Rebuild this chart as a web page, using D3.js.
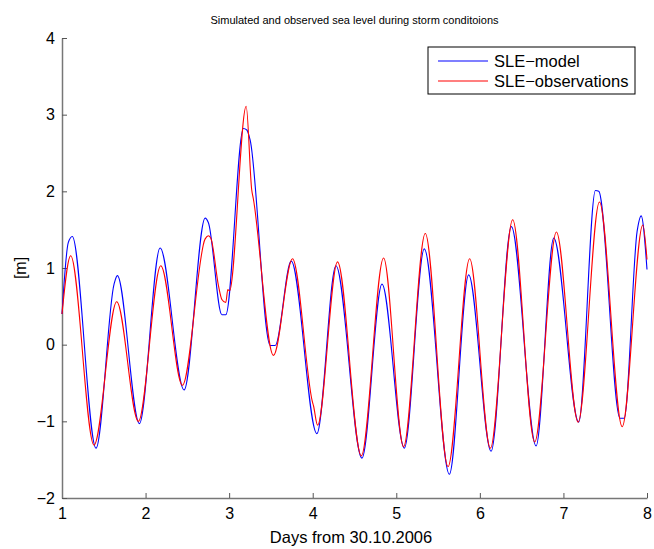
<!DOCTYPE html>
<html lang="en">
<head>
  <meta charset="UTF-8">
  <title>Simulated and observed sea level</title>
  <style>
    body { margin: 0; background: #fff; }
    text { font-family: "Liberation Sans", Arial, Helvetica, sans-serif; fill: #000; }
    .axis .domain { stroke: #777; stroke-width: 1.5; }
    .axis .tick line { stroke: #555; stroke-width: 1; }
    .axis .tick text { font-size: 16px; }
    .series { fill: none; stroke-width: 1.1; }
  </style>
</head>
<body>
  <svg id="chart" width="654" height="549"></svg>

  <script src="https://d3js.org/d3.v7.min.js"></script>
  <script>
    // Model series (days, metres)
    const MODEL_T = [1.000,1.075,1.123,1.407,1.623,1.662,1.926,2.174,2.461,2.713,2.752,2.913,2.960,
                     3.171,3.212,3.251,3.491,3.551,3.743,4.050,4.278,4.589,4.829,5.096,5.335,5.635,
                     5.866,6.134,6.377,6.673,6.884,7.183,7.383,7.423,7.677,7.727,7.882,7.930,8.000];
    const MODEL_V = [0.40,1.33,1.41,-1.35,0.79,0.90,-1.03,1.26,-0.59,1.65,1.59,0.39,0.39,
                     2.82,2.80,2.67,-0.01,-0.01,1.09,-1.16,1.03,-1.48,0.79,-1.35,1.25,-1.69,
                     0.91,-1.39,1.54,-1.32,1.39,-1.01,2.01,2.00,-0.96,-0.96,1.48,1.68,0.98];
    // Observations
    const OBS_T = [1.000,1.104,1.383,1.655,1.914,2.182,2.441,2.713,2.752,2.784,2.872,2.913,2.960,
                   2.984,3.004,3.204,3.270,3.290,3.530,3.758,3.995,4.010,4.058,4.297,4.581,4.848,
                   5.087,5.347,5.619,5.878,6.126,6.393,6.656,6.916,7.176,7.431,7.703,7.950,8.000];
    const OBS_V = [0.40,1.16,-1.31,0.56,-1.00,1.03,-0.53,1.38,1.42,1.38,0.77,0.59,0.55,
                   0.72,0.70,3.11,2.02,1.90,-0.14,1.12,-0.74,-0.80,-1.05,1.08,-1.45,1.13,
                   -1.33,1.45,-1.59,1.12,-1.35,1.63,-1.27,1.47,-1.01,1.86,-1.07,1.56,1.11];
    const X_TICKS = [1,2,3,4,5,6,7,8];
    const Y_TICKS = [-2,-1,0,1,2,3,4];
    const SERIES = [
      {name:"SLE\u2212model",        t:MODEL_T, v:MODEL_V, color:"#0000ff"},
      {name:"SLE\u2212observations", t:OBS_T,   v:OBS_V,   color:"#ff0000"}
    ];

    const L = 62, R = 647, T = 38, B = 498;
    const svg = d3.select("#chart");
    const x = d3.scaleLinear().domain([1, 8]).range([L, R]);
    const y = d3.scaleLinear().domain([-2, 4]).range([B, T]);

    // axes (MATLAB style, box off, ticks inside)
    svg.append("g").attr("class","axis")
      .attr("transform",`translate(0,${B})`)
      .call(d3.axisBottom(x).tickValues(X_TICKS).tickSizeInner(-5).tickSizeOuter(0).tickPadding(10).tickFormat(d3.format("d")));
    svg.append("g").attr("class","axis")
      .attr("transform",`translate(${L},0)`)
      .call(d3.axisLeft(y).tickValues(Y_TICKS).tickSizeInner(-5).tickSizeOuter(0).tickPadding(7).tickFormat(d3.format("d")));

    // lines
    const line = d3.line().curve(d3.curveMonotoneX);
    SERIES.forEach(s => {
      const pts = s.t.map((t, i) => [x(t), y(s.v[i])]);
      svg.append("path").attr("class","series")
        .attr("stroke", s.color).attr("d", line(pts));
    });

    // titles
    svg.append("text").attr("x",(L+R)/2).attr("y",24).attr("text-anchor","middle")
      .style("font-size","11px").text("Simulated and observed sea level during storm conditoions");
    svg.append("text").attr("x",351).attr("y",543).attr("text-anchor","middle")
      .style("font-size","16.5px").text("Days from 30.10.2006");
    svg.append("text").attr("transform",`translate(26,${(T+B)/2}) rotate(-90)`).attr("text-anchor","middle")
      .style("font-size","16px").text("[m]");

    // legend
    const lg = svg.append("g").attr("transform","translate(428,47)");
    lg.append("rect").attr("width",207).attr("height",47)
      .attr("fill","#fff").attr("stroke","#000").attr("stroke-width",1);
    SERIES.forEach((s, i) => {
      lg.append("line").attr("x1",10).attr("x2",60).attr("y1",14+20*i).attr("y2",14+20*i)
        .attr("stroke", s.color).attr("stroke-width",1.1);
      lg.append("text").attr("x",66).attr("y",20+20*i).style("font-size","16.5px").text(s.name);
    });
  </script>
</body>
</html>
